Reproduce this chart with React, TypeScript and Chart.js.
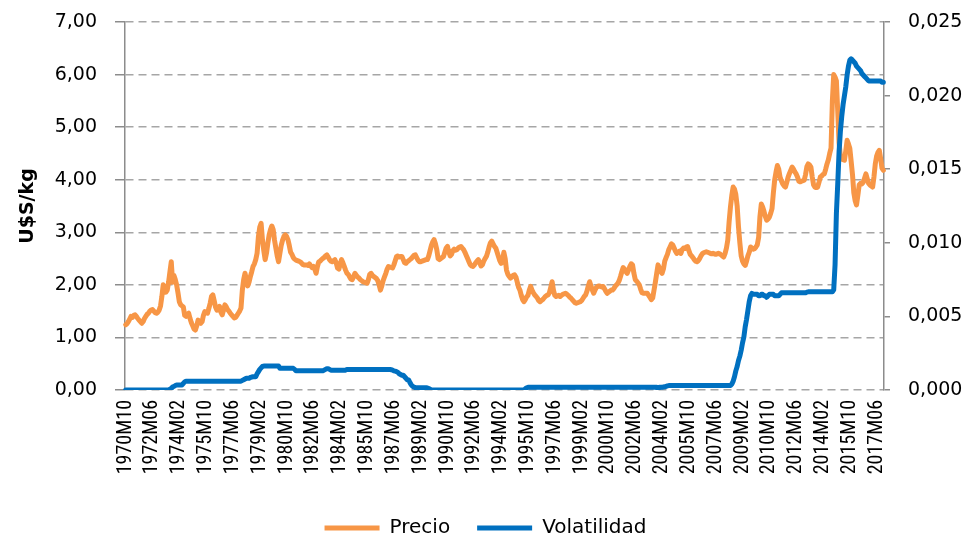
import React, { useEffect, useRef } from "react";
import { Chart, registerables } from "chart.js";

Chart.register(...registerables);

// Monthly series from 1970M10 to 2017M11
const START_YEAR = 1970;
const START_MONTH = 10;

const PRECIO: number[] = [
  /*1970*/ 1.24, 1.26, 1.30,
  /*1971*/ 1.35, 1.40, 1.38, 1.42, 1.43, 1.40, 1.36, 1.33, 1.30, 1.27, 1.30, 1.36,
  /*1972*/ 1.40, 1.44, 1.46, 1.50, 1.52, 1.53, 1.50, 1.47, 1.46, 1.48, 1.52, 1.60,
  /*1973*/ 1.78, 2.00, 1.95, 1.86, 1.90, 2.05, 2.25, 2.44, 2.05, 2.18, 2.10, 2.00,
  /*1974*/ 1.85, 1.68, 1.62, 1.60, 1.58, 1.42, 1.40, 1.44, 1.46, 1.36, 1.28, 1.22,
  /*1975*/ 1.16, 1.14, 1.22, 1.33, 1.30, 1.27, 1.30, 1.42, 1.49, 1.47, 1.46, 1.55,
  /*1976*/ 1.65, 1.78, 1.81, 1.70, 1.58, 1.52, 1.55, 1.59, 1.48, 1.43, 1.52, 1.62,
  /*1977*/ 1.58, 1.53, 1.50, 1.46, 1.43, 1.40, 1.37, 1.38, 1.42, 1.46, 1.50, 1.56,
  /*1978*/ 1.90, 2.10, 2.22, 2.10, 1.98, 2.05, 2.16, 2.25, 2.35, 2.40, 2.48, 2.60,
  /*1979*/ 2.92, 3.10, 3.17, 2.86, 2.65, 2.48, 2.60, 2.79, 2.95, 3.05, 3.12, 3.05,
  /*1980*/ 2.85, 2.70, 2.55, 2.44, 2.60, 2.75, 2.85, 2.92, 2.95, 2.92, 2.86, 2.75,
  /*1981*/ 2.62, 2.58, 2.52, 2.49, 2.47, 2.46, 2.45, 2.44, 2.42, 2.39, 2.38, 2.38,
  /*1982*/ 2.38, 2.37, 2.40, 2.36, 2.33, 2.35, 2.30, 2.22, 2.35, 2.44, 2.45, 2.48,
  /*1983*/ 2.50, 2.52, 2.55, 2.57, 2.53, 2.48, 2.45, 2.44, 2.46, 2.48, 2.42, 2.32,
  /*1984*/ 2.30, 2.40, 2.48, 2.42, 2.35, 2.28, 2.22, 2.20, 2.15, 2.11, 2.10, 2.16,
  /*1985*/ 2.22, 2.18, 2.15, 2.13, 2.10, 2.08, 2.06, 2.05, 2.04, 2.03, 2.10, 2.20,
  /*1986*/ 2.22, 2.18, 2.16, 2.14, 2.12, 2.08, 2.00, 1.90, 1.98, 2.08, 2.15, 2.22,
  /*1987*/ 2.30, 2.35, 2.34, 2.33, 2.32, 2.38, 2.46, 2.54, 2.55, 2.53, 2.54, 2.54,
  /*1988*/ 2.48, 2.42, 2.41, 2.44, 2.46, 2.48, 2.50, 2.53, 2.56, 2.57, 2.52, 2.47,
  /*1989*/ 2.44, 2.44, 2.45, 2.46, 2.47, 2.48, 2.48, 2.55, 2.65, 2.75, 2.82, 2.86,
  /*1990*/ 2.78, 2.67, 2.50, 2.48, 2.50, 2.52, 2.54, 2.62, 2.70, 2.73, 2.62, 2.55,
  /*1991*/ 2.58, 2.65, 2.68, 2.66, 2.67, 2.70, 2.72, 2.73, 2.70, 2.67, 2.62, 2.56,
  /*1992*/ 2.50, 2.44, 2.38, 2.36, 2.35, 2.38, 2.42, 2.45, 2.48, 2.42, 2.36, 2.38,
  /*1993*/ 2.45, 2.50, 2.54, 2.62, 2.72, 2.80, 2.83, 2.78, 2.73, 2.70, 2.62, 2.54,
  /*1994*/ 2.46, 2.41, 2.45, 2.62, 2.50, 2.28, 2.20, 2.16, 2.13, 2.15, 2.18, 2.19,
  /*1995*/ 2.15, 2.05, 1.95, 1.90, 1.80, 1.72, 1.68, 1.72, 1.77, 1.80, 1.90, 1.97,
  /*1996*/ 1.90, 1.85, 1.81, 1.78, 1.75, 1.70, 1.68, 1.70, 1.72, 1.75, 1.78, 1.80,
  /*1997*/ 1.81, 1.85, 1.95, 2.06, 1.90, 1.80, 1.78, 1.79, 1.80, 1.78, 1.80, 1.82,
  /*1998*/ 1.83, 1.84, 1.82, 1.80, 1.77, 1.75, 1.72, 1.69, 1.66, 1.65, 1.66, 1.67,
  /*1999*/ 1.68, 1.70, 1.74, 1.78, 1.81, 1.88, 1.98, 2.06, 1.98, 1.90, 1.84, 1.90,
  /*2000*/ 1.95, 1.97, 1.98, 1.97, 1.96, 1.97, 1.93, 1.88, 1.84, 1.86, 1.88, 1.90,
  /*2001*/ 1.90, 1.93, 1.97, 2.00, 2.03, 2.08, 2.16, 2.25, 2.33, 2.30, 2.25, 2.22,
  /*2002*/ 2.28, 2.35, 2.40, 2.38, 2.22, 2.10, 2.07, 2.04, 2.00, 1.92, 1.85, 1.84,
  /*2003*/ 1.84, 1.84, 1.84, 1.80, 1.76, 1.72, 1.75, 1.90, 2.05, 2.22, 2.38, 2.32,
  /*2004*/ 2.25, 2.22, 2.30, 2.45, 2.52, 2.58, 2.67, 2.72, 2.78, 2.76, 2.70, 2.64,
  /*2005*/ 2.60, 2.62, 2.64, 2.60, 2.67, 2.70, 2.69, 2.72, 2.73, 2.65, 2.58, 2.55,
  /*2006*/ 2.52, 2.48, 2.45, 2.44, 2.46, 2.50, 2.55, 2.59, 2.61, 2.62, 2.63, 2.62,
  /*2007*/ 2.61, 2.60, 2.59, 2.60, 2.59, 2.58, 2.59, 2.60, 2.59, 2.57, 2.55, 2.53,
  /*2008*/ 2.60, 2.70, 2.85, 3.20, 3.48, 3.70, 3.86, 3.82, 3.72, 3.50, 3.10, 2.80,
  /*2009*/ 2.55, 2.45, 2.40, 2.37, 2.45, 2.55, 2.62, 2.72, 2.70, 2.68, 2.69, 2.72,
  /*2010*/ 2.76, 2.90, 3.30, 3.54, 3.48, 3.40, 3.30, 3.23, 3.25, 3.29, 3.36, 3.45,
  /*2011*/ 3.75, 4.00, 4.15, 4.27, 4.20, 4.05, 3.98, 3.92, 3.88, 3.86, 3.95, 4.05,
  /*2012*/ 4.12, 4.18, 4.24, 4.20, 4.15, 4.11, 4.05, 3.97, 3.96, 3.97, 3.98, 3.99,
  /*2013*/ 4.10, 4.25, 4.30, 4.28, 4.24, 4.05, 3.90, 3.86, 3.85, 3.86, 3.95, 4.05,
  /*2014*/ 4.07, 4.10, 4.11, 4.20, 4.30, 4.38, 4.50, 4.60, 5.50, 6.00, 5.95, 5.88,
  /*2015*/ 5.30, 4.70, 4.45, 4.40, 4.38, 4.37, 4.55, 4.75, 4.68, 4.60, 4.35, 4.10,
  /*2016*/ 3.75, 3.60, 3.52, 3.70, 3.90, 3.93, 3.92, 3.95, 4.03, 4.11, 4.02, 3.93,
  /*2017*/ 3.90, 3.88, 3.86, 4.05, 4.30, 4.45, 4.52, 4.56, 4.40, 4.22, 4.18,
];

const VOLATILIDAD: number[] = [
  /*1970*/ 0, 0, 0,
  /*1971*/ 0, 0, 0, 0, 0, 0, 0, 0, 0, 0, 0, 0,
  /*1972*/ 0, 0, 0, 0, 0, 0, 0, 0, 0, 0, 0, 0,
  /*1973*/ 0, 0, 0, 0, 0, 0, 0.00005, 0.0001, 0.0002, 0.00025, 0.0003, 0.00034,
  /*1974*/ 0.00034, 0.00034, 0.00034, 0.00034, 0.00045, 0.00055, 0.0006, 0.0006, 0.0006, 0.0006, 0.0006, 0.0006,
  /*1975*/ 0.0006, 0.0006, 0.0006, 0.0006, 0.0006, 0.0006, 0.0006, 0.0006, 0.0006, 0.0006, 0.0006, 0.0006,
  /*1976*/ 0.0006, 0.0006, 0.0006, 0.0006, 0.0006, 0.0006, 0.0006, 0.0006, 0.0006, 0.0006, 0.0006, 0.0006,
  /*1977*/ 0.0006, 0.0006, 0.0006, 0.0006, 0.0006, 0.0006, 0.0006, 0.0006, 0.0006, 0.0006, 0.0006, 0.0006,
  /*1978*/ 0.00065, 0.0007, 0.00075, 0.0008, 0.0008, 0.0008, 0.00085, 0.00088, 0.0009, 0.0009, 0.0009, 0.0011,
  /*1979*/ 0.00125, 0.0014, 0.0015, 0.0016, 0.00163, 0.00163, 0.00163, 0.00163, 0.00163, 0.00163, 0.00163, 0.00163,
  /*1980*/ 0.00163, 0.00163, 0.00163, 0.00163, 0.00147, 0.00147, 0.00147, 0.00147, 0.00147, 0.00147, 0.00147, 0.00147,
  /*1981*/ 0.00147, 0.00147, 0.00147, 0.0014, 0.0013, 0.0013, 0.0013, 0.0013, 0.0013, 0.0013, 0.0013, 0.0013,
  /*1982*/ 0.0013, 0.0013, 0.0013, 0.0013, 0.0013, 0.0013, 0.0013, 0.0013, 0.0013, 0.0013, 0.0013, 0.0013,
  /*1983*/ 0.0013, 0.00135, 0.0014, 0.00145, 0.00145, 0.0014, 0.00135, 0.00135, 0.00135, 0.00135, 0.00135, 0.00135,
  /*1984*/ 0.00135, 0.00135, 0.00135, 0.00135, 0.00135, 0.00135, 0.0014, 0.0014, 0.0014, 0.0014, 0.0014, 0.0014,
  /*1985*/ 0.0014, 0.0014, 0.0014, 0.0014, 0.0014, 0.0014, 0.0014, 0.0014, 0.0014, 0.0014, 0.0014, 0.0014,
  /*1986*/ 0.0014, 0.0014, 0.0014, 0.0014, 0.0014, 0.0014, 0.0014, 0.0014, 0.0014, 0.0014, 0.0014, 0.0014,
  /*1987*/ 0.0014, 0.0014, 0.0014, 0.00138, 0.00135, 0.0013, 0.00128, 0.00125, 0.0012, 0.0011, 0.00105, 0.001,
  /*1988*/ 0.001, 0.0009, 0.0008, 0.0007, 0.00068, 0.0005, 0.00035, 0.00025, 0.0002, 0.00016, 0.00016, 0.00016,
  /*1989*/ 0.00016, 0.00016, 0.00016, 0.00016, 0.00016, 0.00016, 0.00014, 0.0001, 0.00005, 0, 0, 0,
  /*1990*/ 0, 0, 0, 0, 0, 0, 0, 0, 0, 0, 0, 0,
  /*1991*/ 0, 0, 0, 0, 0, 0, 0, 0, 0, 0, 0, 0,
  /*1992*/ 0, 0, 0, 0, 0, 0, 0, 0, 0, 0, 0, 0,
  /*1993*/ 0, 0, 0, 0, 0, 0, 0, 0, 0, 0, 0, 0,
  /*1994*/ 0, 0, 0, 0, 0, 0, 0, 0, 0, 0, 0, 0,
  /*1995*/ 0, 0, 0, 0, 0, 0, 0, 0.00008, 0.00015, 0.00018, 0.00018, 0.00018,
  /*1996*/ 0.00018, 0.00018, 0.00018, 0.00018, 0.00018, 0.00018, 0.00018, 0.00018, 0.00018, 0.00018, 0.00018, 0.00018,
  /*1997*/ 0.00018, 0.00018, 0.00018, 0.00018, 0.00018, 0.00018, 0.00018, 0.00018, 0.00018, 0.00018, 0.00018, 0.00018,
  /*1998*/ 0.00018, 0.00018, 0.00018, 0.00018, 0.00018, 0.00018, 0.00018, 0.00018, 0.00018, 0.00018, 0.00018, 0.00018,
  /*1999*/ 0.00018, 0.00018, 0.00018, 0.00018, 0.00018, 0.00018, 0.00018, 0.00018, 0.00018, 0.00018, 0.00018, 0.00018,
  /*2000*/ 0.00018, 0.00018, 0.00018, 0.00018, 0.00018, 0.00018, 0.00018, 0.00018, 0.00018, 0.00018, 0.00018, 0.00018,
  /*2001*/ 0.00018, 0.00018, 0.00018, 0.00018, 0.00018, 0.00018, 0.00018, 0.00018, 0.00018, 0.00018, 0.00018, 0.00018,
  /*2002*/ 0.00018, 0.00018, 0.00018, 0.00018, 0.00018, 0.00018, 0.00018, 0.00018, 0.00018, 0.00018, 0.00018, 0.00018,
  /*2003*/ 0.00018, 0.00018, 0.00018, 0.00018, 0.00018, 0.00018, 0.00018, 0.00018, 0.00018, 0.00018, 0.00005, 0.00018,
  /*2004*/ 0.00018, 0.00018, 0.0002, 0.00022, 0.00025, 0.00028, 0.0003, 0.0003, 0.0003, 0.0003, 0.0003, 0.0003,
  /*2005*/ 0.0003, 0.0003, 0.0003, 0.0003, 0.0003, 0.0003, 0.0003, 0.0003, 0.0003, 0.0003, 0.0003, 0.0003,
  /*2006*/ 0.0003, 0.0003, 0.0003, 0.0003, 0.0003, 0.0003, 0.0003, 0.0003, 0.0003, 0.0003, 0.0003, 0.0003,
  /*2007*/ 0.0003, 0.0003, 0.0003, 0.0003, 0.0003, 0.0003, 0.0003, 0.0003, 0.0003, 0.0003, 0.0003, 0.0003,
  /*2008*/ 0.0003, 0.0003, 0.0003, 0.0003, 0.0003, 0.0004, 0.0006, 0.0009, 0.0013, 0.0016, 0.002, 0.0023,
  /*2009*/ 0.0027, 0.0032, 0.0036, 0.0043, 0.0048, 0.0054, 0.006, 0.0064, 0.00656, 0.0065, 0.0065, 0.0065,
  /*2010*/ 0.0065, 0.0064, 0.0064, 0.0065, 0.0065, 0.0064, 0.0064, 0.0063, 0.0064, 0.0065, 0.0065, 0.0065,
  /*2011*/ 0.0065, 0.0064, 0.0064, 0.0064, 0.0064, 0.0065, 0.0066, 0.0066, 0.0066, 0.0066, 0.0066, 0.0066,
  /*2012*/ 0.0066, 0.0066, 0.0066, 0.0066, 0.0066, 0.0066, 0.0066, 0.0066, 0.0066, 0.0066, 0.0066, 0.0066,
  /*2013*/ 0.0066, 0.00665, 0.00667, 0.00667, 0.00667, 0.00667, 0.00667, 0.00667, 0.00667, 0.00667, 0.00667, 0.00667,
  /*2014*/ 0.00667, 0.00667, 0.00667, 0.00667, 0.00667, 0.00667, 0.00667, 0.00667, 0.00667, 0.0068, 0.0085, 0.012,
  /*2015*/ 0.014, 0.0162, 0.0176, 0.0186, 0.0194, 0.02, 0.0206, 0.0214, 0.022, 0.0224, 0.0225, 0.0224,
  /*2016*/ 0.0223, 0.0222, 0.022, 0.0219, 0.0218, 0.0217, 0.0215, 0.0214, 0.0213, 0.0212, 0.0211, 0.021,
  /*2017*/ 0.021, 0.021, 0.021, 0.021, 0.021, 0.021, 0.021, 0.021, 0.021, 0.0209, 0.0209,
];

const X_TICK_LABELS = [
  "1970M10", "1972M06", "1974M02", "1975M10", "1977M06", "1979M02", "1980M10",
  "1982M06", "1984M02", "1985M10", "1987M06", "1989M02", "1990M10", "1992M06",
  "1994M02", "1995M10", "1997M06", "1999M02", "2000M10", "2002M06", "2004M02",
  "2005M10", "2007M06", "2009M02", "2010M10", "2012M06", "2014M02", "2015M10",
  "2017M06",
];

const MESES: string[] = PRECIO.map((_, i) => {
  const m = START_MONTH - 1 + i;
  const y = START_YEAR + Math.floor(m / 12);
  const mm = (m % 12) + 1;
  return `${y}M${String(mm).padStart(2, "0")}`;
});

const LEFT_MIN = 0, LEFT_MAX = 7, LEFT_STEP = 1;
const RIGHT_MIN = 0, RIGHT_MAX = 0.025, RIGHT_STEP = 0.005;

export default function App() {
  const ref = useRef<HTMLCanvasElement>(null);

  useEffect(() => {
    document.body.style.margin = "0";
    const shown = new Set(X_TICK_LABELS);
    // small lineHeight only affects layout measurement (keeps the plot top at 22px)
    const tickFont = { family: "'DejaVu Sans', sans-serif", size: 19, lineHeight: 0.4 };
    const chart = new Chart(ref.current as HTMLCanvasElement, {
      type: "line",
      data: {
        labels: MESES,
        datasets: [
          {
            label: "Precio",
            data: PRECIO,
            borderColor: "#F79646",
            backgroundColor: "#F79646",
            borderWidth: 5,
            borderJoinStyle: "round",
            borderCapStyle: "round",
            pointRadius: 0,
            tension: 0,
            yAxisID: "y",
            order: 2,
          },
          {
            label: "Volatilidad",
            data: VOLATILIDAD,
            borderColor: "#0070C0",
            backgroundColor: "#0070C0",
            borderWidth: 5,
            borderJoinStyle: "round",
            borderCapStyle: "round",
            pointRadius: 0,
            tension: 0,
            yAxisID: "y1",
            order: 1,
          },
        ],
      },
      options: {
        responsive: false,
        animation: false,
        events: [],
        layout: { padding: { top: 22, bottom: -11, left: 0, right: 0 } },
        plugins: {
          tooltip: { enabled: false },
          legend: {
            position: "bottom",
            labels: {
              boxWidth: 55,
              boxHeight: 5,
              padding: 27,
              color: "#000",
              font: { family: "'DejaVu Sans', sans-serif", size: 20 },
              sort: (a: any, b: any) => a.datasetIndex - b.datasetIndex,
              generateLabels: (c: any) =>
                (Chart.defaults.plugins.legend.labels as any)
                  .generateLabels(c)
                  .map((l: any) => ({ ...l, lineWidth: 0, strokeStyle: "rgba(0,0,0,0)" })),
            },
          },
        },
        scales: {
          x: {
            type: "category",
            offset: true,
            grid: { display: false, drawTicks: false },
            border: { display: false },
            ticks: {
              autoSkip: false,
              minRotation: 90,
              maxRotation: 90,
              padding: 10,
              color: "#000",
              font: { family: "'Liberation Sans Narrow', 'Roboto Condensed', Roboto, sans-serif", size: 20 },
              callback: (_v: any, index: number) => (shown.has(MESES[index]) ? MESES[index] : null),
            },
            afterFit: (s: any) => {
              s.height = 101;
            },
          },
          y: {
            position: "left",
            min: LEFT_MIN,
            max: LEFT_MAX,
            ticks: {
              stepSize: LEFT_STEP,
              padding: 18,
              color: "#000",
              font: tickFont,
              callback: (v: any) => Number(v).toFixed(2).replace(".", ","),
            },
            grid: {
              color: "#A6A6A6",
              lineWidth: 1.5,
              tickLength: 10,
              tickColor: "#8C8C8C",
              tickBorderDash: [],
            },
            border: { display: true, color: "#8C8C8C", width: 1.5, dash: [8, 5] },
            title: {
              display: true,
              text: "U$S/kg",
              color: "#000",
              font: { family: "'DejaVu Sans', sans-serif", size: 19, weight: "bold" },
              padding: { top: 17, bottom: 0 },
            },
            afterFit: (s: any) => {
              s.width = 125;
            },
          },
          y1: {
            position: "right",
            min: RIGHT_MIN,
            max: RIGHT_MAX,
            ticks: {
              stepSize: RIGHT_STEP,
              padding: 18,
              color: "#000",
              font: tickFont,
              callback: (v: any) => Number(v).toFixed(3).replace(".", ","),
            },
            grid: { drawOnChartArea: false, tickLength: 6, color: "#8C8C8C", lineWidth: 1.5 },
            border: { display: true, color: "#8C8C8C", width: 1.5 },
            afterFit: (s: any) => {
              s.width = 87;
            },
          },
        },
      } as any,
    });
    return () => chart.destroy();
  }, []);

  return (
    <div style={{ width: 971, height: 537, background: "#fff" }}>
      <canvas ref={ref} width={971} height={537} style={{ display: "block" }} />
    </div>
  );
}
